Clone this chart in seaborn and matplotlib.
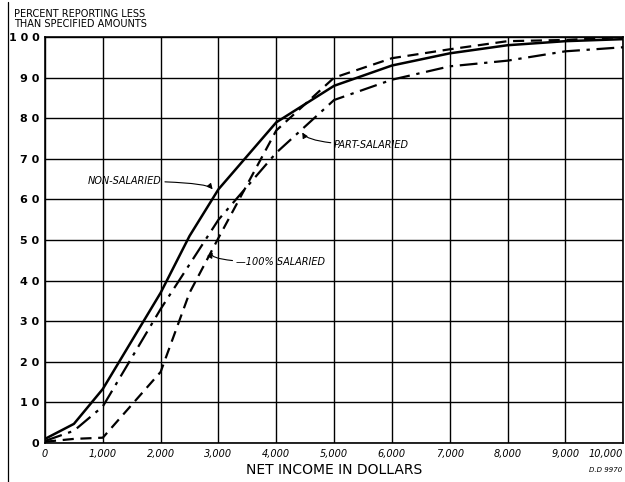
import matplotlib
matplotlib.use("Agg")
import matplotlib.pyplot as plt
import seaborn as sns
import pandas as pd
from matplotlib.lines import Line2D

income = [0, 500, 1000, 2000, 2500, 3000, 4000, 5000, 6000, 7000, 8000, 9000, 10000]
non_salaried = [1, 4.7, 13.3, 37, 51, 62.5, 79, 88, 93, 96, 98, 99, 99.5]
part_salaried = [0.5, 3, 9, 33, 44, 55, 71.5, 84.5, 89.5, 92.8, 94.2, 96.5, 97.5]
salaried_100 = [0.3, 1, 1.3, 17.5, 37, 50.5, 77, 90, 94.8, 97, 99, 99.3, 100]

x_ticks = [0, 1000, 2000, 3000, 4000, 5000, 6000, 7000, 8000, 9000, 10000]
x_tick_labels = ["0", "1,000", "2,000", "3,000", "4,000", "5,000", "6,000",
                 "7,000", "8,000", "9,000", "10,000"]
y_ticks = [0, 10, 20, 30, 40, 50, 60, 70, 80, 90, 100]
y_tick_labels = ["0", "1 0", "2 0", "3 0", "4 0", "5 0", "6 0", "7 0", "8 0", "9 0", "1 0 0"]

sns.set_theme(style="white")
plt.rcParams['font.family'] = ['DejaVu Sans']
plt.rcParams['text.color'] = 'black'
plt.rcParams['axes.labelcolor'] = 'black'
plt.rcParams['xtick.color'] = 'black'
plt.rcParams['ytick.color'] = 'black'

fig = plt.figure(figsize=(6.25, 4.82), dpi=100)
ax = fig.add_axes([0.072, 0.081, 0.925, 0.842])

df_non = pd.DataFrame({"x": income, "y": non_salaried})
df_part = pd.DataFrame({"x": income, "y": part_salaried})
df_sal = pd.DataFrame({"x": income, "y": salaried_100})

sns.lineplot(data=df_non, x="x", y="y", ax=ax, color="black", lw=1.8)
sns.lineplot(data=df_part, x="x", y="y", ax=ax, color="black", lw=1.6)
ax.lines[-1].set_dashes([8, 3, 1.5, 3])
sns.lineplot(data=df_sal, x="x", y="y", ax=ax, color="black", lw=1.6)
ax.lines[-1].set_dashes([5, 3])

ax.set_xlim(0, 10000)
ax.set_ylim(0, 100)
ax.set_xticks(x_ticks)
ax.set_xticklabels(x_tick_labels, fontsize=7, style="italic")
ax.get_xticklabels()[-1].set_ha("right")
ax.set_yticks(y_ticks)
ax.set_yticklabels(y_tick_labels, fontsize=8, fontweight="bold")
ax.tick_params(axis="both", length=0, pad=4)
ax.grid(True, color="black", lw=1.0)
for s in ax.spines.values():
    s.set_color("black")
    s.set_linewidth(1.2)
ax.set_xlabel("NET INCOME IN DOLLARS", fontsize=10, labelpad=3)
ax.set_ylabel("")

fig.text(0.022, 0.982, "PERCENT REPORTING LESS\nTHAN SPECIFIED AMOUNTS",
         fontsize=7, ha="left", va="top", linespacing=1.0)

arrow = dict(arrowstyle="-|>", color="black", lw=0.8, mutation_scale=8,
             shrinkA=0, shrinkB=0)
ax.annotate("NON-SALARIED", xy=(2900, 62.5), xytext=(1380, 64.5),
            fontsize=7, style="italic", ha="center", va="center",
            arrowprops=dict(arrow, connectionstyle="angle3,angleA=0,angleB=-50"))
ax.annotate("—100% SALARIED", xy=(2900, 47), xytext=(3300, 44.5),
            fontsize=7, style="italic", ha="left", va="center",
            arrowprops=dict(arrow, connectionstyle="angle3,angleA=0,angleB=60"))
ax.annotate("PART-SALARIED", xy=(4450, 76.5), xytext=(5000, 73.5),
            fontsize=7, style="italic", ha="left", va="center",
            arrowprops=dict(arrow, connectionstyle="angle3,angleA=0,angleB=-60"))

fig.text(0.995, 0.018, "D.D 9970", fontsize=5, style="italic",
         ha="right", va="bottom")

fig.add_artist(Line2D([0.013, 0.013], [0.0, 0.995], color="black", lw=0.9,
                      transform=fig.transFigure))

fig.savefig("out.png", dpi=100)
